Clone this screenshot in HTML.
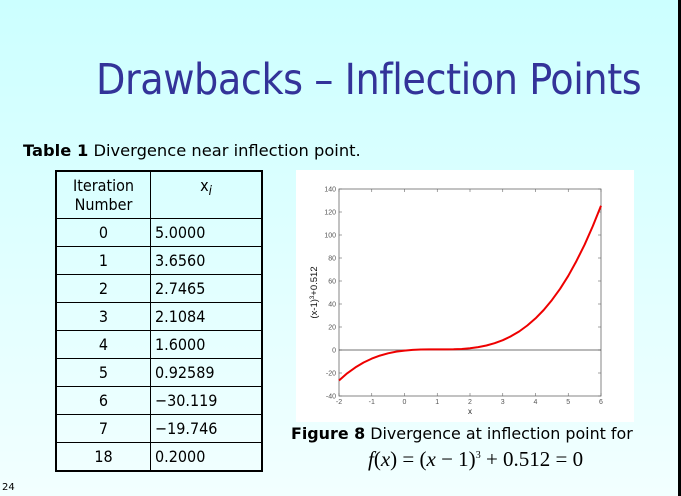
<!DOCTYPE html>
<html><head><meta charset="utf-8"><style>
html,body{margin:0;padding:0}
body{width:681px;height:496px;position:relative;overflow:hidden;background:linear-gradient(#ccffff,#f2ffff);font-family:"DejaVu Sans","Liberation Sans",sans-serif}
.abs{position:absolute}
#title{left:96px;top:56px;font-size:42.5px;color:#333399;font-family:"DejaVu Sans Condensed","DejaVu Sans",sans-serif;letter-spacing:-0.45px;white-space:nowrap}
#caption{left:23px;top:141px;font-size:16.3px;color:#000;white-space:nowrap;font-family:"DejaVu Sans",sans-serif}
table{position:absolute;left:55px;top:170px;border-collapse:collapse;border:2px solid #000;font-size:16px}
td{border:1.5px solid #000;height:27px;padding:0 4px;font-family:"DejaVu Sans Condensed","DejaVu Sans",sans-serif}
td.n{width:85px;text-align:center}td.v{width:102px}
#rb{right:0;top:0;width:3px;height:496px;background:#000}
#fig{left:291px;top:424px;font-size:15.9px;white-space:nowrap;font-family:"DejaVu Sans",sans-serif}
#eq{left:368px;top:447px;font-size:21px;font-family:"Liberation Serif",serif;white-space:nowrap}
#pg{left:2px;top:482px;font-size:10px}
</style></head><body>
<div class="abs" id="rb"></div>
<div class="abs" id="title">Drawbacks – Inflection Points</div>
<div class="abs" id="caption"><b>Table 1</b> Divergence near inflection point.</div>
<table>
<tr style="height:47px"><td class="n">Iteration Number</td><td class="v" style="text-align:center;vertical-align:top;padding-top:4px">x<sub><i>i</i></sub></td></tr>
<tr><td class="n">0</td><td class="v">5.0000</td></tr>
<tr><td class="n">1</td><td class="v">3.6560</td></tr>
<tr><td class="n">2</td><td class="v">2.7465</td></tr>
<tr><td class="n">3</td><td class="v">2.1084</td></tr>
<tr><td class="n">4</td><td class="v">1.6000</td></tr>
<tr><td class="n">5</td><td class="v">0.92589</td></tr>
<tr><td class="n">6</td><td class="v">−30.119</td></tr>
<tr><td class="n">7</td><td class="v">−19.746</td></tr>
<tr><td class="n">18</td><td class="v">0.2000</td></tr>
</table>
<svg class="abs" style="left:296px;top:170px" width="338" height="252" id="chart"></svg>
<div class="abs" id="fig"><b>Figure 8</b> Divergence at inflection point for</div>
<div class="abs" id="eq"><i>f</i>(<i>x</i>) = (<i>x</i> − 1)<sup style="font-size:10px">3</sup> + 0.512 = 0</div>
<div class="abs" id="pg">24</div>
<script>
const xTicks=[-2,-1,0,1,2,3,4,5,6];
const yTicks=[-40,-20,0,20,40,60,80,100,120,140];
const xs=[-2,-1.75,-1.5,-1.25,-1,-0.75,-0.5,-0.25,0,0.25,0.5,0.75,1,1.25,1.5,1.75,2,2.25,2.5,2.75,3,3.25,3.5,3.75,4,4.25,4.5,4.75,5,5.25,5.5,5.75,6];
const ys=[-26.5,-20.3,-15.1,-10.9,-7.5,-4.9,-2.9,-1.4,-0.5,0.1,0.4,0.5,0.5,0.5,0.6,0.9,1.5,2.5,3.9,5.9,8.5,11.9,16.1,21.3,27.5,34.8,43.4,53.2,64.5,77.3,91.6,107.7,125.5];
const svg=document.getElementById('chart');const NS='http://www.w3.org/2000/svg';
const L=43,R=305,T=19,B=226;
const sx=v=>L+(v+2)/8*(R-L), sy=v=>B-(v+40)/180*(B-T);
function el(t,a,name){const e=document.createElementNS(NS,t);for(const k in a)e.setAttribute(k,a[k]);


svg.appendChild(e);return e;}
el('rect',{x:0,y:0,width:338,height:252,fill:'#fff'},'chart-background');
el('rect',{x:L,y:T,width:R-L,height:B-T,fill:'none',stroke:'#666','stroke-width':0.8},'plot-frame');
xTicks.forEach(v=>{const x=sx(v);el('line',{x1:x,x2:x,y1:B,y2:B-3,stroke:'#666','stroke-width':0.6},'x-tick');el('line',{x1:x,x2:x,y1:T,y2:T+3,stroke:'#666','stroke-width':0.6},'x-tick-top');
const t=el('text',{x:x,y:B+8,'font-size':7,fill:'#555','text-anchor':'middle','font-family':'Liberation Sans,sans-serif'},'x-tick-label');t.textContent=v;});
yTicks.forEach(v=>{const y=sy(v);el('line',{x1:L,x2:L+3,y1:y,y2:y,stroke:'#666','stroke-width':0.6},'y-tick');el('line',{x1:R,x2:R-3,y1:y,y2:y,stroke:'#666','stroke-width':0.6},'y-tick-right');
const t=el('text',{x:L-3,y:y+2.4,'font-size':7,fill:'#555','text-anchor':'end','font-family':'Liberation Sans,sans-serif'},'y-tick-label');t.textContent=v;});
el('line',{x1:L,x2:R,y1:sy(0),y2:sy(0),stroke:'#444','stroke-width':0.8},'zero-line');
let d='';xs.forEach((v,i)=>{d+=(i?'L':'M')+sx(v).toFixed(1)+','+sy(ys[i]).toFixed(1);});
el('path',{d:d,fill:'none',stroke:'#ee0000','stroke-width':2,'stroke-linejoin':'round'},'function-curve');
const xl=el('text',{x:(L+R)/2,y:B+18,'font-size':8,fill:'#222','text-anchor':'middle','font-family':'Liberation Sans,sans-serif'},'x-axis-title');xl.textContent='x';
const yl=el('text',{x:0,y:0,'font-size':9.5,fill:'#111','text-anchor':'middle','font-family':'Liberation Sans,sans-serif',transform:'translate(21,'+((T+B)/2)+') rotate(-90)'},'y-axis-title');
yl.innerHTML='(x-1)<tspan dy="-3" font-size="6">3</tspan><tspan dy="3">+0.512</tspan>';
</script>
</body></html>
